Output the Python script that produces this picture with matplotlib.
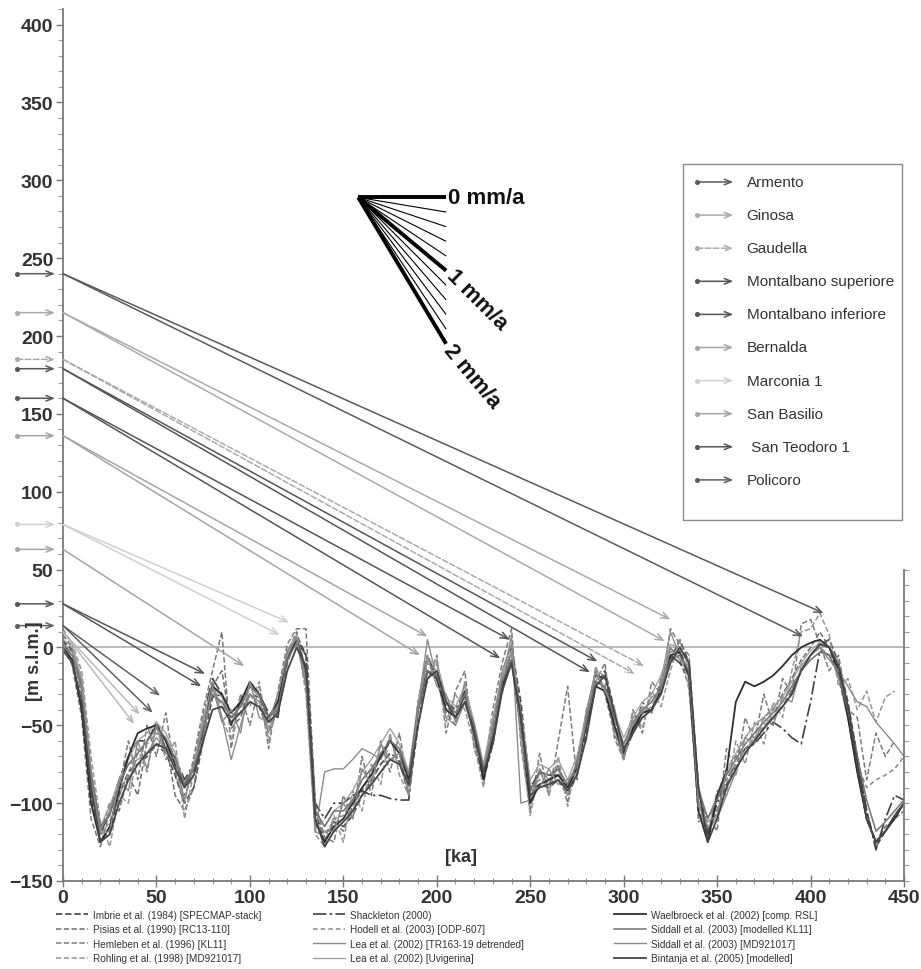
import numpy as np
import matplotlib
matplotlib.use('Agg')
import matplotlib.pyplot as plt
from matplotlib.lines import Line2D
from matplotlib.patches import Rectangle

plt.rcParams['font.family'] = ['Liberation Sans', 'DejaVu Sans']

nan = np.nan
KA = np.arange(0, 455, 5)

# ---------------- sea-level curves (m s.l.m.) on a 5 ka grid ----------------
imbrie = [5, -2, -30, -95, -125, -118, -95, -80, -75, -70,
          -62, -68, -82, -100, -90, -60, -32, -30, -45, -42,
          -30, -32, -48, -42, -10, 8, -5, -105, -125, -112,
          -115, -108, -95, -85, -75, -68, -72, -95, -50, -15,
          -10, -35, -45, -35, -50, -85, -62, -25, 0, -35,
          -92, -88, -90, -85, -95, -82, -55, -25, -15, -40,
          -68, -55, -42, -40, -28, -8, 5, -10, -90, -118,
          -105, -88, -78, -68, -60, -52, -45, -38, -28, -15,
          -5, 2, 5, -10, -35, -70, -105, -128, -118, -108,
          -100]
pisias = [8, 0, -20, -80, -118, -100, -105, -82, -95, -60,
          -48, -60, -95, -105, -90, -55, -25, -15, -52, -45,
          -30, -38, -55, -40, -3, 10, -15, -112, -120, -112,
          -118, -102, -92, -80, -70, -58, -75, -90, -38, -8,
          -20, -42, -50, -28, -60, -88, -50, -18, -10, -52,
          -100, -80, -88, -75, -100, -72, -45, -15, -30, -55,
          -70, -55, -35, -42, -20, 0, -8, -25, -105, -120,
          -95, -78, -70, -58, -50, -45, -40, -30, -20, -8,
          0, 10, 0, -20, -45, -80, -110, -125, -115, -110,
          -105]
hemleben = [5, -12, -45, -110, -128, -105, -90, -60, -85, -50,
            -70, -42, -80, -100, -70, -40, -15, 10, -65, -30,
            -50, -25, -65, -28, 2, 12, 12, -100, -122, -125,
            -95, -110, -70, -95, -60, -80, -55, -90, -40, -22,
            -5, -55, -28, -15, -65, -82, -40, -10, 12, -62,
            -105, -68, -95, -60, -25, -85, -40, -22, -10, -58,
            -72, -40, -55, -22, -30, 12, 2, -5, -112, -108,
            -118, -65, -80, -45, -60, -30, -50, -20, -30, 15,
            18, 2, -15, -5, -40, -45, -85, -55, -70, -60,
            nan]
rohling = [12, 2, -15, -70, -112, -128, -95, -100, -65, -80,
           -50, -72, -60, -110, -80, -62, -22, -45, -60, -30,
           -38, -22, -60, -35, -10, 8, -30, -120, -128, -108,
           -125, -92, -105, -75, -88, -55, -82, -95, -35, -20,
           -8, -48, -30, -40, -62, -90, -45, -30, -2, -58,
           -108, -78, -95, -70, -102, -72, -60, -12, -28, -38,
           -70, -40, -52, -28, -38, -15, 5, -28, -98, -120,
           -92, -95, -60, -75, -48, -62, -35, -45, -15, 10,
           12, 22, 8, -25, -20, -40, -28, -48, -32, -28,
           nan]
shackleton = [5, -10, -40, -90, -120, -105, -85, -70, -60, -60,
              -50, -65, -70, -85, -75, -45, -20, -30, -50, -35,
              -25, -30, -42, -45, -2, 5, -5, -100, -110, -100,
              -100, -95, -92, -95, -95, -97, -98, -98, -35, -5,
              -20, -35, -40, -28, -55, -80, -50, -18, -3, -40,
              -90, -80, -82, -82, -88, -75, -45, -18, -20, -50,
              -68, -52, -45, -40, -25, -5, -10, -18, -90, -120,
              -100, -85, -75, -65, -62, -55, -48, -52, -58, -62,
              -35, -2, -5, -15, -38, -70, -105, -130, -110, -95,
              -98]
hodell = [3, -5, -22, -88, -120, -112, -95, -80, -68, -62,
          -55, -60, -78, -95, -82, -52, -25, -38, -42, -38,
          -30, -38, -52, -35, -5, 3, -22, -118, -122, -110,
          -108, -98, -85, -78, -70, -60, -68, -90, -40, -10,
          -15, -38, -45, -32, -52, -80, -58, -22, -5, -42,
          -90, -85, -88, -82, -90, -75, -50, -22, -25, -48,
          -65, -52, -42, -38, -25, -3, -2, -15, -100, -122,
          -105, -85, -75, -65, -58, -50, -45, -38, -30, -15,
          -5, 0, -5, -18, -45, -75, -90, -85, -82, -78,
          -70]
lea_tr = [0, -5, -28, -82, -118, -105, -88, -75, -72, -68,
          -58, -65, -72, -90, -78, -48, -22, -45, -72, -50,
          -30, -35, -52, -40, -5, 5, -25, -118, -80, -78,
          -78, -72, -65, -68, -72, -60, -65, -85, -38, 5,
          -20, -45, -50, -35, -50, -78, -55, -22, 8, -100,
          -98, -78, -85, -78, -95, -75, -48, -15, -28, -52,
          -72, -50, -38, -42, -22, 10, -5, -20, -100, -115,
          -110, -95, -80, nan, nan, nan, nan, nan, nan, nan,
          nan, nan, nan, nan, nan, nan, nan, nan, nan, nan,
          nan]
lea_uvi = [5, 0, -20, -80, -115, -102, -85, -72, -60, -55,
           -48, -55, -68, -88, -75, -45, -25, -32, -45, -38,
           -25, -32, -45, -35, -2, 8, -15, -105, -115, -105,
           -100, -92, -80, -72, -62, -52, -62, -80, -35, -8,
           -10, -32, -38, -25, -48, -75, -45, -18, -2, -42,
           -85, -75, -78, -72, -85, -70, -42, -15, -18, -42,
           -58, -45, -35, -30, -18, 2, 0, -12, -90, -110,
           -95, -80, -68, -58, -50, -45, -38, -32, -22, -10,
           -2, 3, 0, -10, nan, nan, nan, nan, nan, nan,
           nan]
waelbroeck = [0, -8, -40, -100, -125, -115, -92, -70, -55, -52,
              -50, -60, -75, -88, -78, -55, -25, -30, -42, -35,
              -22, -30, -45, -35, -8, 5, -15, -112, -125, -115,
              -110, -100, -90, -82, -70, -60, -68, -85, -40, -15,
              -20, -40, -45, -30, -55, -85, -58, -25, -8, -50,
              -100, -88, -85, -82, -90, -78, -50, -25, -28, -50,
              -68, -52, -42, -40, -28, -5, -3, -18, -105, -125,
              -95, -80, -35, -22, -25, -22, -18, -12, -5, 0,
              3, 5, 0, -15, -45, -80, -110, -125, -118, -110,
              -100]
siddall_kl = [0, -5, -25, -80, -115, -108, -88, -75, -68, -60,
              -52, -58, -72, -88, -78, -52, -30, -35, -45, -38,
              -25, -30, -45, -40, -8, 3, -18, -105, -115, -105,
              -105, -98, -85, -78, -68, -60, -65, -82, -40, -15,
              -18, -35, -42, -30, -50, -78, -55, -22, -8, -42,
              -92, -80, -82, -78, -88, -75, -48, -22, -25, -45,
              -62, -48, -40, -35, -25, -8, -5, -15, -92, -110,
              -98, -82, -72, -62, -55, -48, -42, -35, -25, -15,
              -8, -3, -5, -18, -40, -70, -98, -118, -112, -105,
              -98]
siddall_md = [2, -3, -22, -85, -120, -118, -85, -92, -60, -78,
              -50, -68, -72, -98, -75, -58, -25, -48, -40, -55,
              -22, -45, -48, -30, -3, 6, -25, -115, -118, -118,
              -100, -110, -78, -88, -62, -72, -68, -95, -38, -5,
              -25, -30, -48, -22, -62, -78, -50, -15, 2, -55,
              -92, -90, -78, -88, -85, -80, -42, -15, -28, -40,
              -72, -45, -42, -32, -28, 0, -8, -12, -102, -112,
              -108, -80, -82, -58, -62, -45, -50, -32, -35, -12,
              -5, 0, -8, -15, -25, -35, -38, -48, -55, -62,
              -70]
bintanja = [-2, -10, -35, -90, -125, -120, -100, -85, -75, -68,
            -62, -65, -78, -90, -82, -60, -40, -38, -48, -42,
            -35, -38, -48, -42, -15, 0, -12, -110, -128, -118,
            -112, -105, -95, -88, -80, -72, -75, -88, -50, -20,
            -15, -35, -45, -35, -55, -80, -62, -28, -10, -45,
            -95, -90, -88, -85, -92, -82, -58, -25, -18, -42,
            -65, -55, -45, -40, -30, -10, 0, -10, -90, -125,
            -110, -90, -78, -68, -60, -52, -45, -38, -30, -15,
            -5, 2, 0, -12, -38, -75, -110, -125, -118, -108,
            -100]

curve_labels = ["Imbrie et al. (1984) [SPECMAP-stack]", "Pisias et al. (1990) [RC13-110]",
                "Hemleben et al. (1996) [KL11]", "Rohling et al. (1998) [MD921017]",
                "Shackleton (2000)", "Hodell et al. (2003) [ODP-607]",
                "Lea et al. (2002) [TR163-19 detrended]", "Lea et al. (2002) [Uvigerina]",
                "Waelbroeck et al. (2002) [comp. RSL]", "Siddall et al. (2003) [modelled KL11]",
                "Siddall et al. (2003) [MD921017]", "Bintanja et al. (2005) [modelled]"]
curve_values = [imbrie, pisias, hemleben, rohling, shackleton, hodell,
                lea_tr, lea_uvi, waelbroeck, siddall_kl, siddall_md, bintanja]
curve_colors = ['#505050', '#6e6e6e', '#7c7c7c', '#969696', '#404040', '#8a8a8a',
                '#8c8c8c', '#a2a2a2', '#2e2e2e', '#727272', '#8a8a8a', '#464646']
DASH = (0, (3.5, 1.6))
curve_styles = [DASH, DASH, DASH, DASH, (0, (8, 2, 1.5, 2)), (0, (3, 2)),
                '-', '-', '-', '-', '-', '-']
curve_widths = [1.3, 1.1, 1.1, 1.1, 1.2, 1.1, 1.0, 1.0, 1.3, 1.1, 1.0, 1.3]

# ---------------- marine terraces ----------------
terrace_names = ["Armento", "Ginosa", "Gaudella", "Montalbano superiore", "Montalbano inferiore",
                 "Bernalda", "Marconia 1", "San Basilio", " San Teodoro 1", "Policoro"]
terrace_elev = [240, 215, 185, 179, 160, 136, 79, 63, 28, 14]
terrace_colors = ['#5a5a5a', '#aaaaaa', '#aaaaaa', '#555555', '#555555',
                  '#a5a5a5', '#cfcfcf', '#a5a5a5', '#555555', '#606060']
terrace_ls = ['-', '-', '--', '-', '-', '-', '-', '-', '-', '-']
terrace_targets = [[(407, 22), (396, 7)],
                   [(325, 18), (322, 4)],
                   [(311, -12), (306, -17)],
                   [(286, -9), (282, -16)],
                   [(239, 5), (234, -7)],
                   [(195, 7), (191, -5)],
                   [(121, 16), (116, 8)],
                   [(97, -12)],
                   [(76, -17), (74, -25)],
                   [(52, -31), (48, -42)]]
extra_start = 10
extra_targets = [(41, -43), (38, -49)]

# uplift-rate fan
rates = [0.0, 0.2, 0.4, 0.6, 0.8, 1.0, 1.2, 1.4, 1.6, 1.8, 2.0]
FAN_KA, FAN_M, FAN_LEN = 158, 289, 47

# ---------------- figure ----------------
fig = plt.figure(figsize=(9.21, 9.70), dpi=100)
ax = fig.add_axes([63/921, 88/970, 841/921, 872/970])
ax.set_xlim(0, 450)
ax.set_ylim(-150, 410)

ax.axhline(0, color='#b4b4b4', lw=1.3, zorder=1)

for lab, vals, c, ls, lw in zip(curve_labels, curve_values, curve_colors, curve_styles, curve_widths):
    ax.plot(KA, np.array(vals, dtype=float), color=c, ls=ls, lw=lw, zorder=2)

# terrace arrows to highstands
for el, c, ls, tg in zip(terrace_elev, terrace_colors, terrace_ls, terrace_targets):
    for (tx, ty) in tg:
        ax.annotate('', xy=(tx, ty), xytext=(0, el),
                    arrowprops=dict(arrowstyle='->,head_length=0.55,head_width=0.22',
                                    color=c, lw=1.1, ls=ls, shrinkA=0, shrinkB=0), zorder=3)
    ax.annotate('', xy=(-4.3, el), xytext=(-24.5, el), annotation_clip=False,
                arrowprops=dict(arrowstyle='->,head_length=0.5,head_width=0.2',
                                color=c, lw=1.1, ls=ls, shrinkA=0, shrinkB=0))
    ax.plot([-24.5], [el], 'o', ms=2.6, color=c, clip_on=False)
for (tx, ty) in extra_targets:
    ax.annotate('', xy=(tx, ty), xytext=(0, extra_start),
                arrowprops=dict(arrowstyle='->,head_length=0.5,head_width=0.2',
                                color='#b5b5b5', lw=1.0, shrinkA=0, shrinkB=0), zorder=3)

# fan
for r in rates:
    thick = r in (0.0, 1.0, 2.0)
    ax.plot([FAN_KA, FAN_KA + FAN_LEN], [FAN_M, FAN_M - r * FAN_LEN],
            color='black', lw=2.8 if thick else 0.8, solid_capstyle='butt', zorder=4)
ax.text(FAN_KA + FAN_LEN + 1, FAN_M, '0 mm/a', fontsize=16, fontweight='bold',
        ha='left', va='center', color='#111')
ax.text(FAN_KA + FAN_LEN + 2.0, FAN_M - 1.0 * FAN_LEN - 1, '1 mm/a', fontsize=16, fontweight='bold',
        ha='left', va='center', rotation=-45, rotation_mode='anchor', color='#111')
ax.text(FAN_KA + FAN_LEN + 0.5, FAN_M - 2.0 * FAN_LEN - 2, '2 mm/a', fontsize=16, fontweight='bold',
        ha='left', va='center', rotation=-50, rotation_mode='anchor', color='#111')

# spines & ticks
for s in ['top', 'right']:
    ax.spines[s].set_visible(False)
for s in ['left', 'bottom']:
    ax.spines[s].set_color('#7a7a7a')
    ax.spines[s].set_linewidth(1.3)
ax.set_xticks(np.arange(0, 451, 50))
ax.set_xticks(np.arange(0, 451, 10), minor=True)
ax.set_yticks(np.arange(-150, 401, 50))
ax.set_yticks(np.arange(-150, 411, 10), minor=True)
ax.tick_params(axis='x', which='major', direction='inout', length=8, width=1, color='#7a7a7a',
               labelsize=14, pad=1.5, labelcolor='#333')
ax.tick_params(axis='x', which='minor', direction='inout', length=5, width=0.8, color='#9a9a9a')
ax.tick_params(axis='y', which='major', direction='out', length=5, width=1, color='#7a7a7a',
               labelsize=14, pad=2, labelcolor='#333')
ax.tick_params(axis='y', which='minor', direction='out', length=3.5, width=0.8, color='#9a9a9a')
for lbl in ax.get_xticklabels() + ax.get_yticklabels():
    lbl.set_fontweight('bold')

ax2 = ax.twinx()
ax2.set_ylim(ax.get_ylim())
for s in ['top', 'left', 'bottom']:
    ax2.spines[s].set_visible(False)
ax2.spines['right'].set_bounds(-150, 50)
ax2.spines['right'].set_color('#7a7a7a')
ax2.spines['right'].set_linewidth(1.3)
ax2.set_yticks(np.arange(-150, 51, 50))
ax2.set_yticks(np.arange(-150, 51, 10), minor=True)
ax2.tick_params(axis='y', which='both', direction='out', length=3.5, width=0.8,
                color='#9a9a9a', labelright=False)

ax.text(-15, -8, '[m s.l.m.]', rotation=90, fontsize=13,
        fontweight='bold', ha='center', va='center', color='#333', clip_on=False)
ax.text(213, -134, '[ka]', fontsize=13, fontweight='bold', ha='center', va='center', color='#333')

# terrace legend box (axes fraction)
box = Rectangle((0.737, 0.414), 0.261, 0.408, transform=ax.transAxes, fill=True,
                facecolor='white', edgecolor='#8a8a8a', lw=1.0, zorder=5)
ax.add_patch(box)
for i, (nm, c, ls) in enumerate(zip(terrace_names, terrace_colors, terrace_ls)):
    ypx = 183 + 33.1 * i
    yf = (882 - ypx) / 872
    ax.annotate('', xy=(0.797, yf), xytext=(0.754, yf), xycoords='axes fraction',
                arrowprops=dict(arrowstyle='->,head_length=0.5,head_width=0.2',
                                color=c, lw=1.1, ls=ls, shrinkA=0, shrinkB=0), zorder=6)
    ax.plot([0.754], [yf], 'o', ms=2.6, color=c, transform=ax.transAxes, zorder=6, clip_on=False)
    ax.text(0.813, yf, nm, transform=ax.transAxes, fontsize=11, va='center', ha='left',
            color='#333', zorder=6)

# bottom legend, three columns
cols = [(0, 4, 56), (4, 8, 313), (8, 12, 614)]
for a, b, xpx in cols:
    hs = [Line2D([], [], color=curve_colors[k], ls=curve_styles[k], lw=curve_widths[k])
          for k in range(a, b)]
    fig.legend(hs, curve_labels[a:b], loc='upper left', bbox_to_anchor=(xpx / 921, 0.061),
               frameon=False, fontsize=7.2, handlelength=3.2, handletextpad=0.5,
               borderpad=0, borderaxespad=0, labelspacing=0.45, labelcolor='#333')

fig.savefig('out.png', dpi=100)
